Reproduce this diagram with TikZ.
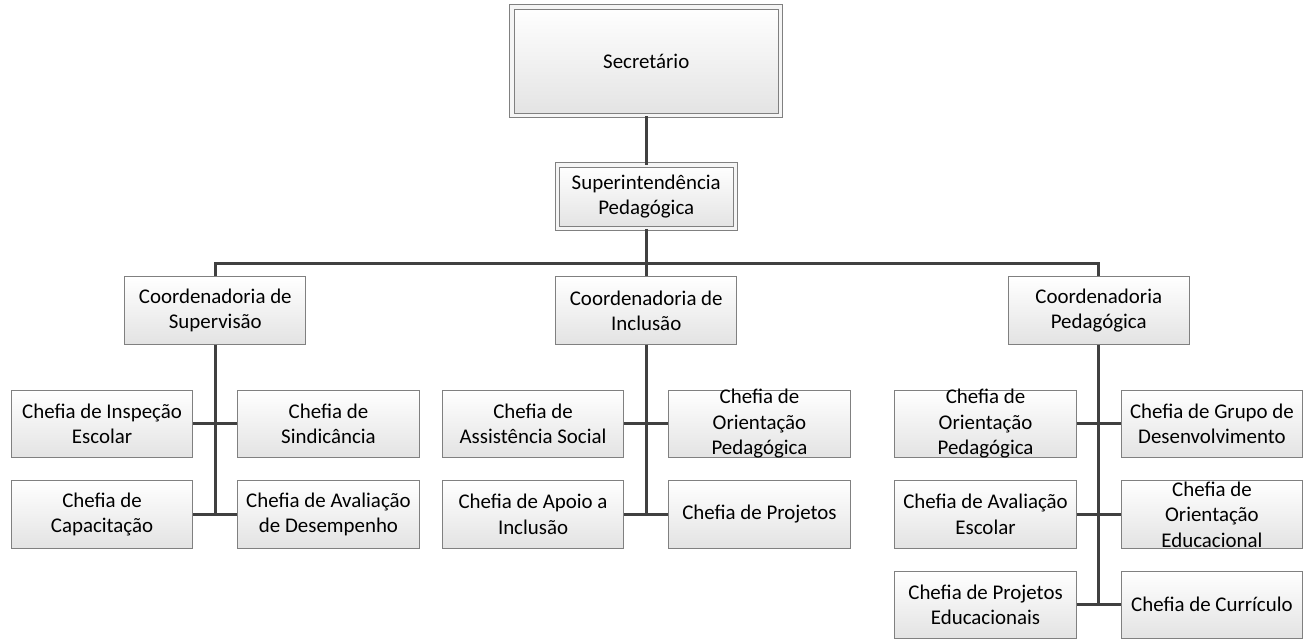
\documentclass[tikz,border=0pt]{standalone}
\usepackage{fontspec}
\setmainfont{Carlito}
\usetikzlibrary{positioning}

\begin{document}
\begin{tikzpicture}[on grid, font=\fontsize{15.7}{19.1}\selectfont,
  caixa/.style={draw=black!50, line width=0.75pt, top color=white, bottom color=black!11,
    align=center, minimum width=136pt, minimum height=50.5pt, inner sep=0pt},
  dupla/.style={caixa, double=black!4, double distance=2.4pt},
  texto/.style={align=center, inner sep=0pt},
  link/.style={draw=black!75, line width=2.25pt}]
  \node[dupla, minimum width=201.75pt, minimum height=81.75pt] (sec) {Secret\'ario};
  \node[dupla, minimum width=133.5pt, minimum height=47.6pt] (sup) [below=101.6pt of sec] {Superintend\^encia\\Pedag\'ogica};
  \coordinate[below=50.25pt of sup] (bus);
  \node[caixa] (cinc) [below=85.5pt of sup] {Coordenadoria de\\Inclus\~ao};
  \node[caixa] (csup) [left=323.6pt of cinc] {Coordenadoria de\\Supervis\~ao};
  \node[caixa] (cped) [right=339.75pt of cinc] {Coordenadoria\\Pedag\'ogica};

  \node[caixa] (insp) [below left=85.1pt and 85pt of csup] {Chefia de Inspe\c{c}\~ao\\Escolar};
  \node[caixa] (sind) [below right=85.1pt and 85pt of csup] {Chefia de\\Sindic\^ancia};
  \node[caixa] (capa) [below=67.9pt of insp] {Chefia de\\Capacita\c{c}\~ao};
  \node[caixa] (desm) [below=67.9pt of sind] {Chefia de Avalia\c{c}\~ao\\de Desempenho};

  \node[caixa] (asso) [below left=85.1pt and 85pt of cinc] {Chefia de\\Assist\^encia Social};
  \node[caixa, label={[texto]center:{Chefia de\\Orienta\c{c}\~ao\\Pedag\'ogica}}] (orin) [below right=85.1pt and 85pt of cinc] {};
  \node[caixa] (apoi) [below=67.9pt of asso] {Chefia de Apoio a\\Inclus\~ao};
  \node[caixa] (proj) [below=67.9pt of orin] {Chefia de Projetos};

  \node[caixa, label={[texto]center:{Chefia de\\Orienta\c{c}\~ao\\Pedag\'ogica}}] (orpe) [below left=85.1pt and 85pt of cped] {};
  \node[caixa] (grup) [below right=85.1pt and 85pt of cped] {Chefia de Grupo de\\Desenvolvimento};
  \node[caixa] (aves) [below=67.9pt of orpe] {Chefia de Avalia\c{c}\~ao\\Escolar};
  \node[caixa, label={[texto]center:{Chefia de\\Orienta\c{c}\~ao\\Educacional}}] (ored) [below=67.9pt of grup] {};
  \node[caixa] (pred) [below=67.9pt of aves] {Chefia de Projetos\\Educacionais};
  \node[caixa] (curr) [below=67.9pt of ored] {Chefia de Curr\'iculo};

  \path[link] (sec) edge (sup) (sup) edge (cinc);
  \draw[link] (csup.north) |- (bus) -| (cped.north);
  \draw[link] (csup.south) -- (csup.south |- capa.east);
  \draw[link] (cinc.south) -- (cinc.south |- apoi.east);
  \draw[link] (cped.south) -- (cped.south |- pred.east);
  \path[link] (insp) edge (sind) (capa) edge (desm)
    (asso) edge (orin) (apoi) edge (proj)
    (orpe) edge (grup) (aves) edge (ored) (pred) edge (curr);

  \useasboundingbox (sec.center) ++(-485.25pt,46.125pt) rectangle ++(977.25pt,-477.75pt);
\end{tikzpicture}
\end{document}
